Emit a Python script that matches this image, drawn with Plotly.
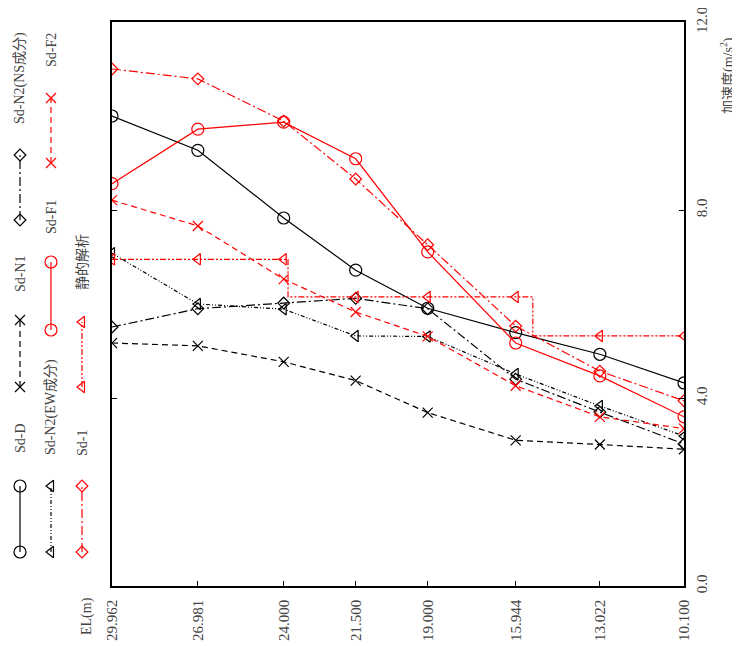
import plotly.graph_objects as go

# elevation (m) of each level, left -> right
el = [29.962, 26.981, 24.000, 21.500, 19.000, 15.944, 13.022, 10.100]
el_labels = ["29.962", "26.981", "24.000", "21.500", "19.000", "15.944", "13.022", "10.100"]

# maximum response acceleration (m/s2)
sd_d = [10.00, 9.27, 7.83, 6.72, 5.91, 5.39, 4.93, 4.32]
sd_n1 = [5.17, 5.11, 4.77, 4.37, 3.69, 3.10, 3.01, 2.91]
sd_n2_ns = [5.51, 5.90, 6.02, 6.12, 5.90, 4.40, 3.70, 3.02]
sd_n2_ew = [7.08, 6.00, 5.89, 5.32, 5.31, 4.51, 3.83, 3.19]
sd_f1 = [8.56, 9.72, 9.87, 9.09, 7.11, 5.17, 4.47, 3.60]
sd_f2 = [8.21, 7.66, 6.53, 5.83, 5.31, 4.26, 3.60, 3.35]
sd_1 = [11.00, 10.79, 9.89, 8.66, 7.26, 5.53, 4.57, 3.94]
static = [6.95, 6.95, 6.95, 6.15, 6.15, 6.15, 5.32, 5.32]
static_steps = [23.85, 15.35]   # EL where the static value changes

acc_ticks = [0, 4, 8, 12]
acc_labels = ["0.0", "4.0", "8.0", "12.0"]

W, H = 740, 646
OFF = 8   # page body margin shifts the figure by this much
PL, PR, PT, PB = 112 - OFF, 684 - OFF, 22 - OFF, 586 - OFF
RED = "#ff0000"
BLK = "#000000"
FONT = "Liberation Serif, Noto Sans CJK JP, serif"
GRAY = "#444444"

series = [
    # name, values, color, dash, symbol, size, legend column x, marker ys, text y
    ("Sd-D", sd_d, BLK, "solid", "circle-open", 12, 20, (552, 486), 438),
    ("Sd-N1", sd_n1, BLK, "6px,4px", "x-thin-open", 10, 20, (387, 320), 274),
    ("Sd-N2(NS成分)", sd_n2_ns, BLK, "9px,3px,2px,3px", "diamond-open", 9, 20, (220, 155), 78),
    ("Sd-N2(EW成分)", sd_n2_ew, BLK, "4px,2px,1px,2px,1px,2px", "triangle-left-open", 10, 51, (552, 486), 407),
    ("Sd-F1", sd_f1, RED, "solid", "circle-open", 12, 51, (330, 262), 217),
    ("Sd-F2", sd_f2, RED, "6px,4px", "x-thin-open", 10, 51, (163, 98), 50),
    ("Sd-1", sd_1, RED, "9px,3px,2px,3px", "diamond-open", 9, 82, (552, 486), 443),
]

fig = go.Figure()

for name, vals, col, dash, sym, sz, lx, lys, ty in series:
    fig.add_trace(go.Scatter(
        x=el, y=vals, mode="lines+markers", name=name,
        line=dict(color=col, width=1.2, dash=dash),
        marker=dict(symbol=sym, size=sz, color=col, line=dict(color=col, width=1.2)),
        xaxis="x", yaxis="y", showlegend=False))

# static analysis: stepped line, markers at each level
sx, sy = [], []
k = 0
for i, (e, a) in enumerate(zip(el, static)):
    if i and a != static[i - 1]:
        sx += [static_steps[k], static_steps[k]]
        sy += [static[i - 1], a]
        k += 1
    sx.append(e)
    sy.append(a)
sdash = "6px,2px,2px,2px,2px,2px"
fig.add_trace(go.Scatter(x=sx, y=sy, mode="lines", line=dict(color=RED, width=1.2, dash=sdash),
                         showlegend=False))
fig.add_trace(go.Scatter(x=el, y=static, mode="markers",
                         marker=dict(symbol="triangle-left-open", size=10, color=RED,
                                     line=dict(color=RED, width=1.2)),
                         showlegend=False))
series.append(("静的解析", static, RED, sdash, "triangle-left-open", 10, 82, (387, 322), 262))

# hand-drawn rotated legend on an overlay axis in screen pixel units
for name, vals, col, dash, sym, sz, lx, lys, ty in series:
    fig.add_trace(go.Scatter(
        x=[lx, lx], y=list(lys), mode="lines+markers", xaxis="x2", yaxis="y2",
        line=dict(color=col, width=1.2, dash=dash),
        marker=dict(symbol=sym, size=sz, color=col, line=dict(color=col, width=1.2)),
        showlegend=False, hoverinfo="skip"))
    fig.add_annotation(x=lx, y=ty, xref="x2", yref="y2", text=name, textangle=-90,
                       showarrow=False, font=dict(family=FONT, size=14, color=GRAY))

fig.add_annotation(x=727, y=76, xref="x2", yref="y2", text="加速度(m/s<sup>2</sup>)",
                   textangle=-90, showarrow=False, font=dict(family=FONT, size=14, color=GRAY))
fig.add_annotation(x=87, y=616, xref="x2", yref="y2", text="EL(m)",
                   textangle=-90, showarrow=False, font=dict(family=FONT, size=14, color=GRAY))

fig.update_layout(
    width=W, height=H,
    margin=dict(l=0, r=0, t=0, b=0),
    paper_bgcolor="white", plot_bgcolor="rgba(0,0,0,0)",
    showlegend=False,
    xaxis=dict(domain=[PL / W, PR / W], range=[el[0], el[-1]], tickvals=el, ticktext=el_labels,
               tickangle=-90, ticks="inside", ticklen=5, tickcolor=BLK, showline=True,
               linecolor=BLK, linewidth=1.5, mirror=True, showgrid=False, zeroline=False,
               automargin=False, ticklabelstandoff=6, ticklabeloverflow="allow",
               tickfont=dict(family=FONT, size=15, color=GRAY)),
    yaxis=dict(domain=[(H - PB) / H, (H - PT) / H], range=[0, 12], side="right",
               tickvals=acc_ticks, ticktext=acc_labels, tickangle=-90, ticks="inside",
               ticklen=5, tickcolor=BLK, showline=True, linecolor=BLK, linewidth=1.5,
               mirror="ticks", showgrid=False, zeroline=False, automargin=False,
               ticklabelstandoff=3, ticklabeloverflow="allow",
               tickfont=dict(family=FONT, size=15, color=GRAY)),
    xaxis2=dict(domain=[0, 1], range=[OFF, W + OFF], visible=False, anchor="y2", fixedrange=True),
    yaxis2=dict(domain=[0, 1], range=[H + OFF, OFF], visible=False, anchor="x2", fixedrange=True),
)

fig.write_html("out.html")
